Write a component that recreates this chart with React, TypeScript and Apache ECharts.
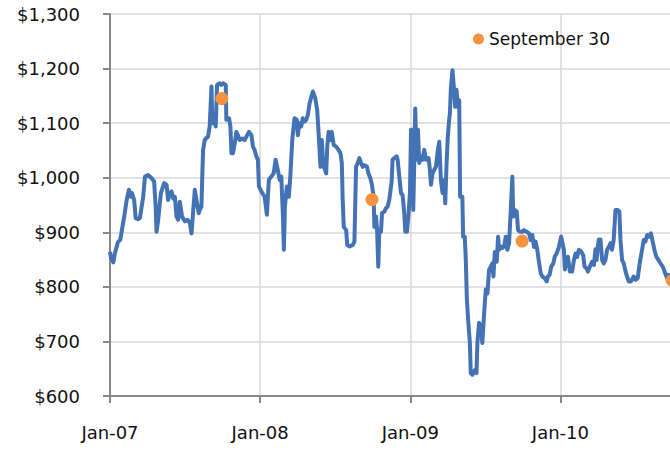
import React, { useEffect, useRef } from "react";
import * as echarts from "echarts";

const BASE_YEAR = 2007;
const END_YEAR = 2010.75;
const yTicks = { min: 600, max: 1300, step: 100 };
const legendLabel = "September 30";

// years after Jan 2007
const yearOffsets = [
  0.000, 0.007, 0.022, 0.033, 0.053, 0.068, 0.095, 0.111, 0.126, 0.140, 0.146, 0.161, 0.171, 0.188, 0.199,
  0.211, 0.221, 0.233, 0.254, 0.277, 0.294, 0.304, 0.310, 0.321, 0.339, 0.361, 0.377, 0.387, 0.399, 0.410,
  0.421, 0.432, 0.443, 0.454, 0.465, 0.480, 0.498, 0.516, 0.532, 0.543, 0.553, 0.565, 0.576, 0.591, 0.598,
  0.609, 0.615, 0.620, 0.631, 0.643, 0.653, 0.664, 0.676, 0.682, 0.691, 0.704, 0.713, 0.731, 0.742, 0.753,
  0.771, 0.775, 0.793, 0.802, 0.809, 0.819, 0.831, 0.842, 0.852, 0.864, 0.882, 0.897, 0.908, 0.926, 0.942,
  0.952, 0.963, 0.975, 0.985, 0.992, 1.008, 1.030, 1.045, 1.058, 1.074, 1.090, 1.103, 1.118, 1.130, 1.141,
  1.152, 1.158, 1.165, 1.178, 1.191, 1.201, 1.214, 1.229, 1.245, 1.251, 1.262, 1.274, 1.284, 1.296, 1.307,
  1.318, 1.329, 1.351, 1.367, 1.380, 1.389, 1.402, 1.411, 1.418, 1.424, 1.433, 1.440, 1.447, 1.456, 1.468,
  1.477, 1.490, 1.506, 1.522, 1.535, 1.544, 1.550, 1.557, 1.573, 1.580, 1.595, 1.617, 1.628, 1.639, 1.650,
  1.661, 1.672, 1.683, 1.694, 1.712, 1.721, 1.734, 1.743, 1.756, 1.761, 1.772, 1.779, 1.787, 1.794, 1.805,
  1.812, 1.827, 1.838, 1.849, 1.860, 1.876, 1.882, 1.894, 1.909, 1.916, 1.927, 1.938, 1.949, 1.960, 1.967,
  1.978, 1.989, 1.998, 2.005, 2.016, 2.020, 2.027, 2.033, 2.042, 2.051, 2.060, 2.071, 2.082, 2.093, 2.104,
  2.122, 2.131, 2.138, 2.148, 2.159, 2.171, 2.181, 2.193, 2.204, 2.215, 2.226, 2.233, 2.241, 2.250, 2.259,
  2.264, 2.270, 2.281, 2.292, 2.299, 2.308, 2.317, 2.326, 2.332, 2.347, 2.352, 2.363, 2.370, 2.377, 2.387,
  2.397, 2.403, 2.414, 2.432, 2.441, 2.447, 2.458, 2.470, 2.480, 2.492, 2.503, 2.514, 2.525, 2.536, 2.547,
  2.554, 2.563, 2.576, 2.585, 2.591, 2.603, 2.613, 2.625, 2.636, 2.647, 2.658, 2.669, 2.680, 2.686, 2.696,
  2.709, 2.718, 2.731, 2.746, 2.757, 2.775, 2.791, 2.802, 2.813, 2.824, 2.835, 2.846, 2.857, 2.869, 2.879,
  2.895, 2.909, 2.917, 2.928, 2.939, 2.953, 2.962, 2.975, 2.990, 3.005, 3.014, 3.023, 3.030, 3.041, 3.050,
  3.063, 3.078, 3.090, 3.101, 3.112, 3.123, 3.138, 3.152, 3.161, 3.174, 3.183, 3.196, 3.211, 3.223, 3.234,
  3.241, 3.249, 3.256, 3.267, 3.278, 3.289, 3.300, 3.311, 3.322, 3.334, 3.344, 3.355, 3.367, 3.382, 3.393,
  3.400, 3.411, 3.422, 3.434, 3.444, 3.455, 3.471, 3.488, 3.500, 3.515, 3.528, 3.544, 3.555, 3.566, 3.578,
  3.588, 3.603, 3.617, 3.626, 3.639, 3.654, 3.666, 3.682, 3.698, 3.710, 3.721, 3.734, 3.750,
];

const prices = [
  864, 853, 845, 862, 882, 886, 929, 959, 978, 965, 972, 959, 926, 924, 926,
  947, 965, 1002, 1005, 999, 993, 947, 901, 923, 972, 990, 987, 959, 972, 975,
  962, 965, 929, 923, 956, 929, 920, 923, 917, 898, 935, 978, 959, 935, 941,
  947, 1007, 1051, 1069, 1073, 1075, 1094, 1167, 1100, 1112, 1094, 1170, 1173, 1170, 1173,
  1170, 1106, 1109, 1094, 1045, 1045, 1063, 1084, 1078, 1069, 1072, 1069, 1075, 1084, 1078,
  1057, 1051, 1039, 1033, 984, 975, 965, 932, 996, 1002, 1008, 1033, 1014, 996, 1002,
  929, 868, 947, 984, 965, 1002, 1069, 1109, 1106, 1078, 1100, 1094, 1109, 1103, 1106,
  1115, 1136, 1158, 1146, 1124, 1084, 1020, 1069, 1033, 1020, 1014, 1008, 1057, 1084, 1069,
  1084, 1060, 1057, 1051, 1045, 1027, 959, 910, 904, 877, 874, 877, 883, 1020, 1027,
  1036, 1027, 1020, 1023, 1020, 1008, 999, 990, 965, 910, 929, 904, 837, 904, 901,
  935, 938, 944, 947, 959, 993, 1033, 1036, 1039, 1033, 1002, 972, 968, 935, 901,
  901, 935, 972, 1088, 1088, 941, 1033, 1127, 1033, 1088, 1027, 1039, 1033, 1051, 1033,
  1036, 1014, 987, 1008, 1014, 1020, 1045, 1066, 996, 972, 996, 953, 1020, 1075, 1106,
  1118, 1161, 1197, 1161, 1130, 1161, 1130, 1142, 965, 965, 892, 892, 849, 776, 734,
  697, 642, 639, 648, 642, 697, 734, 727, 697, 752, 795, 788, 831, 837, 843,
  819, 864, 846, 892, 868, 874, 871, 874, 892, 868, 880, 938, 1002, 929, 941,
  938, 904, 901, 901, 904, 901, 898, 886, 895, 873, 883, 868, 846, 825, 819,
  816, 810, 819, 822, 837, 843, 855, 861, 873, 892, 880, 868, 832, 853, 855,
  828, 828, 849, 861, 855, 868, 865, 858, 837, 834, 828, 837, 846, 840, 869,
  849, 873, 887, 887, 849, 843, 849, 868, 873, 880, 868, 886, 941, 941, 938,
  886, 849, 843, 828, 819, 810, 810, 819, 813, 816, 843, 868, 886, 883, 895,
  892, 898, 880, 868, 855, 849, 843, 837, 825, 816, 822, 815, 812,
];

const septOffsets = [0.745, 1.745, 2.745, 3.745];
const septPrices = [1145, 960, 884, 812];

const FONT = "DejaVu Sans";
const TEXT = "#111111";

export default function App() {
  const ref = useRef<HTMLDivElement>(null);

  useEffect(() => {
    document.body.style.margin = "0";
    document.body.style.overflow = "hidden";
    if (!ref.current) return;
    const chart = echarts.init(ref.current, undefined, { renderer: "svg" });

    const lineData = yearOffsets.map((t, i) => [BASE_YEAR + t, prices[i]]);
    const dotData = septOffsets.map((t, i) => [BASE_YEAR + t, septPrices[i]]);

    chart.setOption({
      animation: false,
      backgroundColor: "#ffffff",
      grid: { left: 110, right: 2, top: 14, bottom: 55, containLabel: false },
      legend: {
        data: [legendLabel],
        left: 473,
        top: 29,
        padding: 0,
        icon: "circle",
        itemWidth: 11,
        itemHeight: 11,
        textStyle: { fontFamily: FONT, fontSize: 17, color: TEXT, lineHeight: 20 },
      },
      xAxis: {
        type: "value",
        min: BASE_YEAR,
        max: END_YEAR,
        interval: 1,
        axisLine: { show: true, lineStyle: { color: "#888888", width: 2 } },
        axisTick: { show: true, length: 7, lineStyle: { color: "#888888", width: 2 } },
        axisLabel: {
          margin: 27,
          fontFamily: FONT,
          fontSize: 18,
          color: TEXT,
          formatter: (v: number) =>
            Number.isInteger(v) ? "Jan-" + String(v).slice(2) : "",
        },
        splitLine: { show: true, lineStyle: { color: "#d9d9d9", width: 1.5 } },
      },
      yAxis: {
        type: "value",
        min: yTicks.min,
        max: yTicks.max,
        interval: yTicks.step,
        axisLine: { show: true, lineStyle: { color: "#888888", width: 2 } },
        axisTick: { show: true, length: 7, lineStyle: { color: "#888888", width: 2 } },
        axisLabel: {
          margin: 30,
          fontFamily: FONT,
          fontSize: 18,
          color: TEXT,
          formatter: (v: number) => "$" + v.toLocaleString("en-US"),
        },
        splitLine: { show: true, lineStyle: { color: "#d9d9d9", width: 1.5 } },
      },
      series: [
        {
          name: "Price",
          type: "line",
          data: lineData,
          showSymbol: false,
          symbol: "none",
          lineStyle: { color: "#4373B5", width: 4, join: "round" },
          itemStyle: { color: "#4373B5" },
          z: 2,
        },
        {
          name: legendLabel,
          type: "scatter",
          data: dotData,
          symbol: "circle",
          symbolSize: 13,
          itemStyle: { color: "#F7923F", opacity: 1 },
          z: 3,
        },
      ],
    });

    return () => chart.dispose();
  }, []);

  return <div ref={ref} style={{ width: 676, height: 451 }} />;
}
